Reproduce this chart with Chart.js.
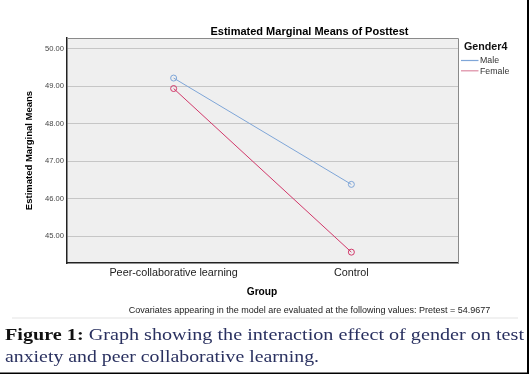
<!DOCTYPE html>
<html>
<head>
<meta charset="utf-8">
<script src="https://cdn.jsdelivr.net/npm/chart.js@4.4.1/dist/chart.umd.min.js"></script>
<style>
html,body{margin:0;padding:0;background:#fff;}
#wrap{position:relative;width:530px;height:376px;}
canvas{display:block;}
</style>
</head>
<body>
<div id="wrap"><canvas id="c" width="530" height="376"></canvas></div>
<script>
// ---- data ----
const groups = ['Peer-collaborative learning', 'Control'];
const seriesNames = ['Male', 'Female'];
const maleMeans = [49.22, 46.38];
const femaleMeans = [48.94, 44.57];
const yTickValues = [45, 46, 47, 48, 49, 50];
const chartTitle = 'Estimated Marginal Means of Posttest';
const legendTitle = 'Gender4';
const yAxisTitle = 'Estimated Marginal Means';
const xAxisTitle = 'Group';
const footnote = 'Covariates appearing in the model are evaluated at the following values: Pretest = 54.9677';
const captionBold = 'Figure 1:';
const captionLine1 = ' Graph showing the interaction effect of gender on test';
const captionLine2 = 'anxiety and peer collaborative learning.';

const maleColor = '#7fa6d8';
const femaleColor = '#d2386a';

function toPoints(arr){ return arr.map((v,i)=>({x:i,y:v})); }

const bgPlugin = {
  id:'bg',
  beforeDraw(chart){
    const {ctx, chartArea:a} = chart;
    ctx.save();
    ctx.fillStyle='#efefef';
    ctx.fillRect(a.left,a.top,a.right-a.left,a.bottom-a.top);
    ctx.restore();
  },
  afterDatasetsDraw(chart){
    const {ctx, chartArea:a} = chart;
    ctx.save();
    ctx.strokeStyle='#8a8a8a';
    ctx.lineWidth=1;
    ctx.beginPath();
    ctx.moveTo(a.left,a.top+0.5); ctx.lineTo(a.right+0.5,a.top+0.5);
    ctx.lineTo(a.right+0.5,a.bottom);
    ctx.stroke();
    ctx.restore();
  }
};

const textPlugin = {
  id:'texts',
  afterDraw(chart){
    const ctx = chart.ctx;
    ctx.save();
    ctx.textBaseline='middle';
    // title
    ctx.fillStyle='#000';
    ctx.font='bold 11px Arial, "Liberation Sans", sans-serif';
    ctx.textAlign='center';
    ctx.fillText(chartTitle, 309.5, 31.5);
    // legend
    ctx.textAlign='left';
    ctx.font='bold 10.7px Arial, "Liberation Sans", sans-serif';
    ctx.fillStyle='#111';
    ctx.fillText(legendTitle, 464, 47);
    const legColors=['#7fa6d8','#dc8ba3'];
    seriesNames.forEach((n,i)=>{
      const y = 60.5 + i*10.3;
      ctx.strokeStyle=legColors[i];
      ctx.lineWidth=1.2;
      ctx.beginPath(); ctx.moveTo(461,y); ctx.lineTo(478.5,y); ctx.stroke();
      ctx.fillStyle='#333';
      ctx.font='8.8px Arial, "Liberation Sans", sans-serif';
      ctx.fillText(n, 480, y+0.5);
    });
    // y axis title
    ctx.save();
    ctx.translate(29.5,150.5);
    ctx.rotate(-Math.PI/2);
    ctx.textAlign='center';
    ctx.fillStyle='#000';
    ctx.font='bold 9.5px Arial, "Liberation Sans", sans-serif';
    ctx.fillText(yAxisTitle,0,0);
    ctx.restore();
    // x axis title
    ctx.textAlign='center';
    ctx.fillStyle='#000';
    ctx.font='bold 10.2px Arial, "Liberation Sans", sans-serif';
    ctx.fillText(xAxisTitle, 262, 292.5);
    // footnote (fit to width)
    let fs = 8;
    ctx.font = fs+'px Arial, "Liberation Sans", sans-serif';
    let w = ctx.measureText(footnote).width;
    fs = fs*362/w;
    ctx.font = fs.toFixed(2)+'px Arial, "Liberation Sans", sans-serif';
    ctx.fillStyle='#222';
    ctx.fillText(footnote, 309.5, 310.7);
    // faint separator
    ctx.strokeStyle='#ececec';
    ctx.lineWidth=1.5;
    ctx.beginPath(); ctx.moveTo(12,318); ctx.lineTo(518,318); ctx.stroke();
    // caption
    ctx.textBaseline='alphabetic';
    ctx.textAlign='left';
    const serif='"Liberation Serif", "DejaVu Serif", serif';
    const cfs = 17;
    ctx.font='bold '+cfs+'px '+serif;
    const wb = ctx.measureText(captionBold).width;
    ctx.font=cfs+'px '+serif;
    const w1 = ctx.measureText(captionLine1).width;
    const sx = (519)/(wb+w1);
    ctx.save();
    ctx.translate(5,339.5);
    ctx.scale(sx,1);
    ctx.font='bold '+cfs+'px '+serif;
    ctx.fillStyle='#111';
    ctx.fillText(captionBold,0,0);
    ctx.font=cfs+'px '+serif;
    ctx.fillStyle='#2a3160';
    ctx.fillText(captionLine1,wb,0);
    ctx.restore();
    ctx.font=cfs+'px '+serif;
    const w2 = ctx.measureText(captionLine2).width;
    const sx2 = 314/w2;
    ctx.save();
    ctx.translate(5,361.5);
    ctx.scale(sx2,1);
    ctx.fillStyle='#2a3160';
    ctx.fillText(captionLine2,0,0);
    ctx.restore();
    // frame
    ctx.strokeStyle='#000';
    ctx.lineWidth=2;
    ctx.beginPath(); ctx.moveTo(528,0); ctx.lineTo(528,374); ctx.stroke();
    ctx.lineWidth=1.5;
    ctx.beginPath(); ctx.moveTo(0,373.2); ctx.lineTo(529,373.2); ctx.stroke();
    ctx.restore();
  }
};

new Chart(document.getElementById('c'), {
  type:'line',
  data:{
    datasets:[
      {label:seriesNames[0], data:toPoints(maleMeans), borderColor:maleColor, backgroundColor:'rgba(0,0,0,0)',
       borderWidth:1, pointRadius:3, pointBorderWidth:1, pointBorderColor:maleColor, pointBackgroundColor:'rgba(0,0,0,0)', tension:0},
      {label:seriesNames[1], data:toPoints(femaleMeans), borderColor:femaleColor, backgroundColor:'rgba(0,0,0,0)',
       borderWidth:1, pointRadius:3, pointBorderWidth:1, pointBorderColor:femaleColor, pointBackgroundColor:'rgba(0,0,0,0)', tension:0}
    ]
  },
  options:{
    responsive:false,
    animation:false,
    layout:{padding:{top:38,right:72,left:0,bottom:0}},
    plugins:{legend:{display:false},title:{display:false},tooltip:{enabled:false}},
    scales:{
      x:{
        type:'linear', min:-0.6, max:1.6,
        afterBuildTicks(scale){ scale.ticks = groups.map((g,i)=>({value:i})); },
        afterFit(scale){ scale.height = 113; },
        grid:{display:false, drawTicks:false},
        border:{display:true, color:'#222', width:1.5},
        ticks:{
          autoSkip:false, maxRotation:0, padding:4, color:'#222',
          font:{family:'Arial, "Liberation Sans", sans-serif', size:10.8},
          callback:(v)=>groups[v] ?? ''
        }
      },
      y:{
        min:44.28, max:50.29,
        afterBuildTicks(scale){ scale.ticks = yTickValues.map(v=>({value:v})); },
        afterFit(scale){ scale.width = 67; },
        grid:{color:'#c6c6c6', lineWidth:1, drawTicks:false},
        border:{display:true, color:'#222', width:1.5},
        ticks:{
          padding:3, color:'#444',
          font:{family:'Arial, "Liberation Sans", sans-serif', size:7.6},
          callback:(v)=>Number(v).toFixed(2)
        }
      }
    }
  },
  plugins:[bgPlugin, textPlugin]
});
</script>
</body>
</html>
